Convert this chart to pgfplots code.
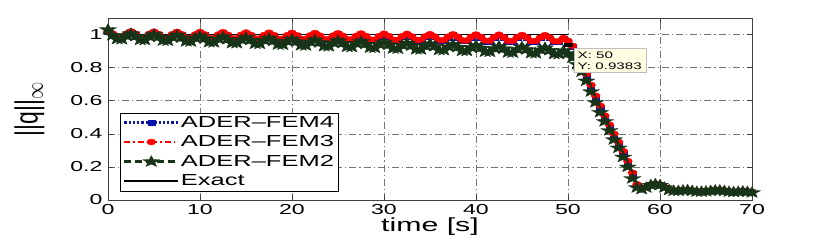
\documentclass[border=0pt]{standalone}
\usepackage{pgfplots}
\pgfplotsset{compat=1.18}
\usepackage{pgfplotstable}
\usepackage{fontspec}
\setmainfont[FakeStretch=1.6]{Liberation Sans}
\newfontfamily\plainfont{Liberation Sans}
\definecolor{femblue}{RGB}{10,20,170}
\definecolor{femred}{RGB}{255,0,0}
\definecolor{femgreen}{RGB}{24,52,24}
\definecolor{tipbg}{RGB}{255,255,228}
\pgfdeclareplotmark{pstar}{%
  \pgfpathmoveto{\pgfpointpolar{90}{\pgfplotmarksize}}%
  \pgfpathlineto{\pgfpointpolar{126}{0.42\pgfplotmarksize}}%
  \pgfpathlineto{\pgfpointpolar{162}{\pgfplotmarksize}}%
  \pgfpathlineto{\pgfpointpolar{198}{0.42\pgfplotmarksize}}%
  \pgfpathlineto{\pgfpointpolar{234}{\pgfplotmarksize}}%
  \pgfpathlineto{\pgfpointpolar{270}{0.42\pgfplotmarksize}}%
  \pgfpathlineto{\pgfpointpolar{306}{\pgfplotmarksize}}%
  \pgfpathlineto{\pgfpointpolar{342}{0.42\pgfplotmarksize}}%
  \pgfpathlineto{\pgfpointpolar{18}{\pgfplotmarksize}}%
  \pgfpathlineto{\pgfpointpolar{54}{0.42\pgfplotmarksize}}%
  \pgfpathclose
  \pgfusepathqfillstroke}
\pgfplotstableread{
t f4 f3 f2
0 1.016 1.020 1.030
0.5 1.002 1.006 0.995
1 0.979 0.983 0.972
1.5 0.979 0.983 0.971
2 1.001 1.005 0.992
2.5 1.015 1.019 1.005
3 1.000 1.004 0.990
3.5 0.978 0.982 0.967
4 0.978 0.982 0.966
4.5 1.000 1.004 0.987
5 1.013 1.017 1.000
5.5 0.999 1.003 0.986
6 0.977 0.981 0.963
6.5 0.977 0.981 0.962
7 0.998 1.002 0.983
7.5 1.012 1.016 0.996
8 0.998 1.002 0.981
8.5 0.976 0.980 0.958
9 0.975 0.979 0.957
9.5 0.997 1.001 0.978
10 1.011 1.015 0.991
10.5 0.997 1.001 0.976
11 0.974 0.978 0.953
11.5 0.974 0.978 0.952
12 0.996 1.000 0.973
12.5 1.010 1.014 0.986
13 0.995 0.999 0.971
13.5 0.973 0.977 0.948
14 0.973 0.977 0.947
14.5 0.995 0.999 0.968
15 1.008 1.012 0.982
15.5 0.994 0.998 0.967
16 0.972 0.976 0.944
16.5 0.972 0.976 0.943
17 0.993 0.997 0.964
17.5 1.007 1.011 0.977
18 0.993 0.997 0.962
18.5 0.971 0.975 0.939
19 0.970 0.974 0.938
19.5 0.992 0.996 0.959
20 1.006 1.010 0.972
20.5 0.992 0.996 0.957
21 0.969 0.973 0.934
21.5 0.969 0.973 0.933
22 0.991 0.995 0.954
22.5 1.005 1.009 0.967
23 0.990 0.994 0.952
23.5 0.968 0.972 0.929
24 0.968 0.972 0.928
24.5 0.990 0.994 0.949
25 1.003 1.007 0.963
25.5 0.989 0.993 0.948
26 0.967 0.971 0.925
26.5 0.967 0.971 0.924
27 0.988 0.992 0.945
27.5 1.002 1.006 0.958
28 0.988 0.992 0.943
28.5 0.966 0.970 0.920
29 0.965 0.969 0.919
29.5 0.987 0.991 0.940
30 1.001 1.005 0.953
30.5 0.987 0.991 0.938
31 0.964 0.968 0.915
31.5 0.964 0.968 0.914
32 0.986 0.990 0.935
32.5 1.000 1.004 0.948
33 0.985 0.989 0.933
33.5 0.963 0.967 0.910
34 0.963 0.967 0.909
34.5 0.985 0.989 0.930
35 0.998 1.002 0.944
35.5 0.984 0.988 0.929
36 0.962 0.966 0.906
36.5 0.962 0.966 0.905
37 0.983 0.987 0.926
37.5 0.997 1.001 0.939
38 0.983 0.987 0.924
38.5 0.961 0.965 0.901
39 0.960 0.964 0.900
39.5 0.982 0.986 0.921
40 0.996 1.000 0.934
40.5 0.982 0.986 0.919
41 0.959 0.963 0.896
41.5 0.959 0.963 0.895
42 0.981 0.985 0.916
42.5 0.995 0.999 0.929
43 0.980 0.984 0.914
43.5 0.958 0.962 0.891
44 0.958 0.962 0.890
44.5 0.980 0.984 0.911
45 0.993 0.997 0.925
45.5 0.979 0.983 0.910
46 0.957 0.961 0.887
46.5 0.957 0.961 0.886
47 0.978 0.982 0.907
47.5 0.992 0.996 0.920
48 0.978 0.982 0.905
48.5 0.956 0.960 0.882
49 0.955 0.959 0.881
49.5 0.975 0.979 0.902
50 0.955 0.962 0.885
50.5 0.925 0.932 0.860
51 0.862 0.870 0.820
51.5 0.805 0.815 0.775
52 0.750 0.760 0.720
52.5 0.685 0.695 0.655
53 0.620 0.630 0.590
53.5 0.560 0.570 0.530
54 0.500 0.510 0.475
54.5 0.445 0.455 0.420
55 0.390 0.400 0.365
55.5 0.340 0.350 0.315
56 0.285 0.295 0.260
56.5 0.225 0.235 0.200
57 0.157 0.165 0.130
57.5 0.090 0.095 0.075
58 0.067 0.068 0.065
58.5 0.077 0.078 0.075
59 0.092 0.093 0.090
59.5 0.097 0.098 0.095
60 0.092 0.093 0.090
60.5 0.077 0.078 0.075
61 0.062 0.063 0.060
61.5 0.057 0.058 0.055
62 0.057 0.058 0.055
62.5 0.060 0.061 0.058
63 0.062 0.063 0.060
63.5 0.057 0.058 0.055
64 0.052 0.053 0.050
64.5 0.052 0.053 0.050
65 0.054 0.055 0.052
65.5 0.057 0.058 0.055
66 0.060 0.061 0.058
66.5 0.060 0.061 0.058
67 0.057 0.058 0.055
67.5 0.052 0.053 0.050
68 0.050 0.051 0.048
68.5 0.052 0.053 0.050
69 0.054 0.055 0.052
69.5 0.052 0.053 0.050
70 0.047 0.048 0.045
}\femdata
\begin{document}
\begin{tikzpicture}
\useasboundingbox (-108bp,-42bp) rectangle (722bp,200bp);
\begin{axis}[
  at={(0,0)}, anchor=south west,
  scale only axis, width=644bp, height=182bp,
  xmin=0, xmax=70, ymin=0, ymax=1.1,
  xtick={0,10,20,30,40,50,60,70},
  ytick={0,0.2,0.4,0.6,0.8,1},
  clip=false,
  axis line style={black!75, line width=0.6pt},
  tick align=inside,
  major tick length=5bp,
  tick style={black!75, line width=0.6pt},
  grid=major,
  major grid style={black!55, line width=0.5pt, dash pattern=on 7bp off 3bp on 1.2bp off 3bp},
  /pgf/number format/assume math mode=true,
  tick label style={font=\fontsize{14.5}{16}\selectfont},
  yticklabel style={xshift=-2bp},
  xticklabel style={yshift=-1bp},
  xlabel={time [s]},
  xlabel style={font=\fontsize{19}{22}\selectfont, at={(axis description cs:0.5,0)}, anchor=north, inner sep=0pt, yshift=-18bp},
  ylabel={\scalebox{1}[1.4]{\plainfont\fontsize{23}{26}\selectfont ||q||$_{\infty}$}},
  ylabel style={at={(axis description cs:-0.122,0.5)}, anchor=center, inner sep=0pt},
  legend style={at={(axis description cs:0.0186,0.049)}, anchor=south west,
    font=\fontsize{16}{18}\selectfont, draw=black, fill=white,
    inner xsep=3bp, inner ysep=2bp, row sep=4bp,
    nodes={inner sep=1.5bp}},
  legend cell align=left,
  legend image code/.code={%
    \draw[mark repeat=2, mark phase=2] plot coordinates {(0bp,0bp) (27bp,0bp) (54bp,0bp)};},
]
\addplot[femblue, line width=2.3pt, dotted, mark=square*, mark size=2.4bp,
  mark options={solid, line width=0.4pt, xscale=1.5, fill=femblue, draw=femblue}]
  table[x=t, y=f4] {\femdata};
\addlegendentry{ADER\textendash FEM4}
\addplot[femred, line width=2.3pt, dash pattern=on 6bp off 3bp on 1.5bp off 3bp, mark=*, mark size=3bp,
  mark options={solid, line width=0.4pt, xscale=1.5, fill=femred, draw=femred}]
  table[x=t, y=f3] {\femdata};
\addlegendentry{ADER\textendash FEM3}
\addplot[femgreen, line width=2.3pt, dash pattern=on 7bp off 4bp, mark=pstar, mark size=6bp,
  mark options={solid, xscale=1.5, fill=femgreen, draw=femgreen, line width=0.3pt}]
  table[x=t, y=f2] {\femdata};
\addlegendentry{ADER\textendash FEM2}
\addplot[black, line width=1.6pt] coordinates {(0,1) (50,1)};
\addlegendentry{Exact}
\addplot[black, only marks, mark=square*, mark size=2.4bp, mark options={xscale=1.6, yscale=0.8}, forget plot]
  coordinates {(50,0.9383)};
\coordinate (tip) at (axis cs:50.6,0.92);
\end{axis}
\node[anchor=north west, fill=tipbg, draw=black!25, line width=0.4pt, inner xsep=4bp, inner ysep=3.5bp,
  align=left, font=\fontsize{9.5}{11}\selectfont] at (tip) {X: 50\\Y: 0.9383};
\end{tikzpicture}
\end{document}
